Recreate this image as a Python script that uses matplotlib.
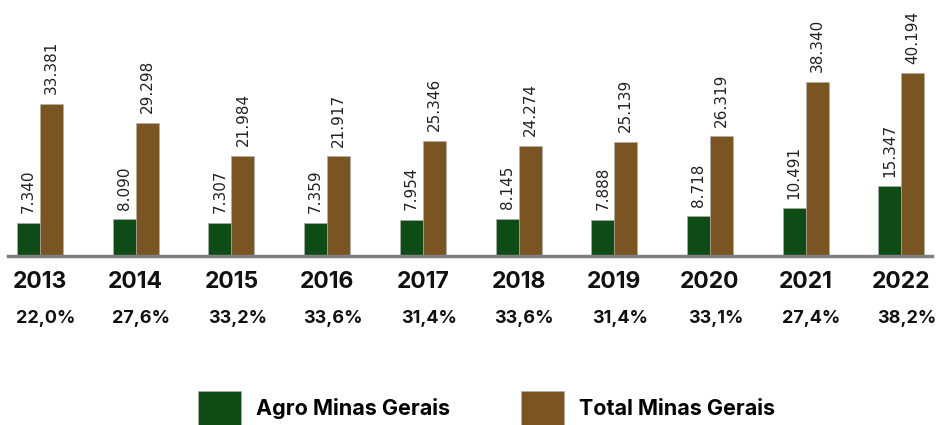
import matplotlib
matplotlib.use('Agg')
import matplotlib.pyplot as plt
from matplotlib.patches import Patch
import numpy as np

# dados (mil) - Minas Gerais
anos = ['2013', '2014', '2015', '2016', '2017', '2018', '2019', '2020', '2021', '2022']
agro = [7.340, 8.090, 7.307, 7.359, 7.954, 8.145, 7.888, 8.718, 10.491, 15.347]
total = [33.381, 29.298, 21.984, 21.917, 25.346, 24.274, 25.139, 26.319, 38.340, 40.194]
participacao = ['22,0%', '27,6%', '33,2%', '33,6%', '31,4%', '33,6%', '31,4%', '33,1%', '27,4%', '38,2%']

cor_agro = '#0f4b14'
cor_total = '#7a5521'

fig = plt.figure(figsize=(9.39, 4.25), dpi=100)
ax = fig.add_axes([0.0085, 0.3976, 0.984, 0.535])

x = np.arange(len(anos))
w = 0.24
ax.bar(x - w/2, agro, w, color=cor_agro, edgecolor='#b0b0b0', linewidth=0.4)
ax.bar(x + w/2, total, w, color=cor_total, edgecolor='#b0b0b0', linewidth=0.4)

# rotulos de valor
for i in range(len(anos)):
    ax.annotate(f'{agro[i]:.3f}', (x[i] - w/2, agro[i]), xytext=(0, 7), textcoords='offset points',
                rotation=90, ha='center', va='bottom', fontsize=11, color='#222222')
    ax.annotate(f'{total[i]:.3f}', (x[i] + w/2, total[i]), xytext=(0, 7), textcoords='offset points',
                rotation=90, ha='center', va='bottom', fontsize=11, color='#222222')

ax.set_xlim(-0.335, 9.32)
ax.set_ylim(0, 50)

for s in ['top', 'right', 'left']:
    ax.spines[s].set_visible(False)
ax.spines['bottom'].set_color('#808080')
ax.spines['bottom'].set_linewidth(2.5)
ax.set_yticks([])
ax.set_xticks([])

tr = ax.get_xaxis_transform()
for i in range(len(anos)):
    ax.text(x[i], -0.114, anos[i], transform=tr, ha='center', va='center',
            fontsize=16.5, fontweight='bold', family='Inter', color='#111111')
    ax.text(x[i] + 0.06, -0.273, participacao[i], transform=tr, ha='center', va='center',
            fontsize=13, fontweight='bold', family='Inter', color='#111111')

handles = [Patch(facecolor=cor_agro, edgecolor='#b0b0b0', linewidth=0.4, label='Agro Minas Gerais'),
           Patch(facecolor=cor_total, edgecolor='#b0b0b0', linewidth=0.4, label='Total Minas Gerais')]
fig.legend(handles=handles, loc='center', bbox_to_anchor=(0.518, 0.04), ncol=2, frameon=False,
           handlelength=2.0, handleheight=2.0, handletextpad=0.7, columnspacing=3.3,
           borderpad=0, prop={'family': 'Inter', 'weight': 'bold', 'size': 15.5})

fig.savefig('out.png', dpi=100)
